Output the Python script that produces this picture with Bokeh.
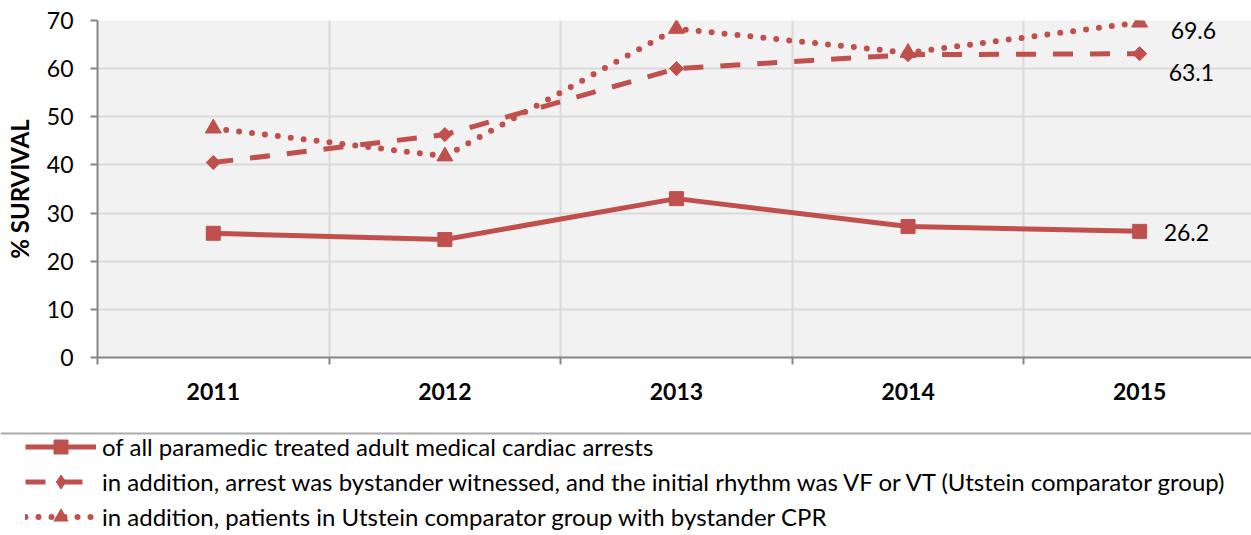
from bokeh.plotting import figure
from bokeh.layouts import column
from bokeh.models import FixedTicker, Range1d, Legend, LegendItem, ColumnDataSource, Span
from bokeh.embed import file_html
from bokeh.resources import INLINE
from bokeh.core.properties import value

# ---------------- data ----------------
years = ["2011", "2012", "2013", "2014", "2015"]
all_treated = [25.8, 24.5, 33.0, 27.2, 26.2]
utstein = [40.5, 46.3, 60.0, 62.9, 63.1]
utstein_cpr = [47.6, 41.8, 68.3, 63.3, 69.6]
series_names = [
    "of all paramedic treated adult medical cardiac arrests",
    "in addition, arrest was bystander witnessed, and the initial rhythm was VF or VT (Utstein comparator group)",
    "in addition, patients in Utstein comparator group with bystander CPR",
]
y_ticks = [0, 10, 20, 30, 40, 50, 60, 70]

# ---------------- style ----------------
FONT = "Lato"
RED = "#C0504D"
AXIS = "#868686"
GRID = "#D9D9D9"
FS = "23px"
W = 1251

xs = [i + 0.5 for i in range(len(years))]
bounds = list(range(len(years) + 1))

p = figure(width=W, height=430, output_backend="svg", toolbar_location=None,
           x_range=Range1d(0, 4.983), y_range=Range1d(0, 70),
           min_border_left=97, min_border_top=20, min_border_right=0,
           min_border_bottom=73)
p.frame_align = False
p.background_fill_color = "#F2F2F2"
p.border_fill_color = "white"
p.outline_line_color = None

# y axis
p.yaxis.ticker = FixedTicker(ticks=y_ticks)
p.yaxis.axis_line_color = AXIS
p.yaxis.axis_line_width = 2
p.yaxis.major_tick_line_color = AXIS
p.yaxis.major_tick_line_width = 2
p.yaxis.major_tick_in = 0
p.yaxis.major_tick_out = 7
p.yaxis.minor_tick_line_color = None
p.yaxis.major_label_standoff = 17
p.yaxis.major_label_text_font = FONT
p.yaxis.major_label_text_font_size = FS
p.yaxis.major_label_text_color = "black"
p.yaxis.axis_label = "% SURVIVAL"
p.yaxis.axis_label_text_font = FONT
p.yaxis.axis_label_text_font_style = "bold"
p.yaxis.axis_label_text_font_size = "24px"
p.yaxis.axis_label_text_color = "black"
p.yaxis.axis_label_standoff = 10

# x axis
p.xaxis.ticker = FixedTicker(ticks=xs, minor_ticks=bounds)
p.xaxis.major_label_overrides = {x: y for x, y in zip(xs, years)}
p.xaxis.axis_line_color = AXIS
p.xaxis.axis_line_width = 2
p.xaxis.major_tick_in = 0
p.xaxis.major_tick_out = 0
p.xaxis.major_tick_line_color = None
p.xaxis.minor_tick_in = 0
p.xaxis.minor_tick_out = 7
p.xaxis.minor_tick_line_color = AXIS
p.xaxis.minor_tick_line_width = 2
p.xaxis.major_label_standoff = 18
p.xaxis.major_label_text_font = FONT
p.xaxis.major_label_text_font_style = "bold"
p.xaxis.major_label_text_font_size = FS
p.xaxis.major_label_text_color = "black"

# grids
p.ygrid.ticker = FixedTicker(ticks=y_ticks)
p.ygrid.grid_line_color = GRID
p.ygrid.grid_line_width = 2
p.xgrid.ticker = FixedTicker(ticks=bounds[1:-1])
p.xgrid.grid_line_color = GRID
p.xgrid.grid_line_width = 2

# styles per series
line_styles = [
    dict(line_width=5),
    dict(line_width=5, line_dash="20 17"),
    dict(line_width=6, line_dash="0 13", line_cap="round"),
]
marker_styles = [
    dict(marker="square", size=14, angle=0.0),
    dict(marker="square", size=10, angle=0.785398),
    dict(marker="triangle", size=16, angle=0.0),
]
legend_markers = ["square", "diamond", "triangle"]
series = [all_treated, utstein, utstein_cpr]

for vals, ls, ms in zip(series, line_styles, marker_styles):
    p.line(xs, vals, line_color=RED, **ls)
    p.scatter(xs, vals, color=RED, **ms)

# data labels at last point
last_vals = [utstein_cpr[-1], utstein[-1], all_treated[-1]]
lab_src = ColumnDataSource(dict(
    x=[xs[-1]] * 3,
    y=last_vals,
    text=[f"{v:.1f}" for v in last_vals],
    dx=[31, 29, 24],
    dy=[8, 19, 1],
))
p.text(x="x", y="y", text="text", x_offset="dx", y_offset="dy", source=lab_src,
       text_font=value(FONT), text_font_size=FS, text_color="black",
       text_align="left", text_baseline="middle")

# ---------------- legend strip ----------------
LH = 105
q = figure(width=W, height=LH, output_backend="svg", toolbar_location=None,
           x_range=Range1d(0, W), y_range=Range1d(0, LH),
           x_axis_location=None, y_axis_location=None,
           min_border=0)
q.frame_align = False
q.grid.visible = False
q.outline_line_color = None
q.background_fill_color = "white"
q.border_fill_color = "white"
q.add_layout(Span(location=LH - 3, dimension="width", line_color="#ABABAB", line_width=2))

items = []
for name, ls, mk in zip(series_names, line_styles, legend_markers):
    lr = q.line([-20, -10], [-20, -20], line_color=RED, **ls)
    mr = q.scatter([-20], [-20], color=RED, marker=mk, size=14)
    items.append(LegendItem(label=name, renderers=[lr, mr]))

legend = Legend(items=items, location=(25, 1))
legend.label_text_font = FONT
legend.label_text_font_size = "24px"
legend.label_text_color = "black"
legend.glyph_width = 71
legend.glyph_height = 35
legend.label_height = 30
legend.label_standoff = 6
legend.spacing = 0
legend.padding = 4
legend.margin = 0
legend.border_line_color = None
legend.background_fill_alpha = 0
q.add_layout(legend, "center")

layout = column(p, q, spacing=0)
open("out.html", "w").write(file_html(layout, INLINE))
